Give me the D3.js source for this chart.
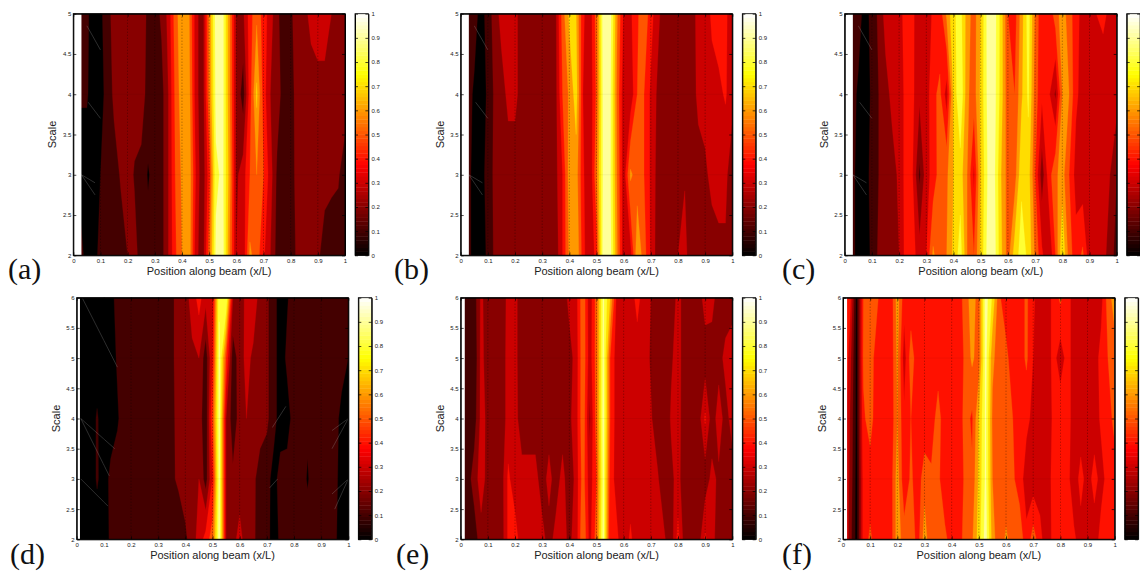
<!DOCTYPE html>
<html><head><meta charset="utf-8">
<script src="https://cdn.jsdelivr.net/npm/d3@7"></script>
<style>
html,body{margin:0;padding:0;background:#fff;overflow:hidden}
svg{display:block}
text{font-family:"Liberation Sans",Arial,sans-serif;fill:#222}
.mark{filter:blur(0.35px)}
.pl{font-family:"Liberation Serif",serif;font-size:30px;fill:#111}
</style></head><body><svg id="c" width="1140" height="572"></svg>
<script>
// Values in hundredths of the colour range, rows from lowest scale to highest, columns at x = 0, 0.025 ... 1
const xPositions = d3.range(41).map(i => i * 0.025);
const levels = [0,10,20,30,40,50,60,70,80,90];
const xTicks = [0,0.1,0.2,0.3,0.4,0.5,0.6,0.7,0.8,0.9,1];
const barTicks = xTicks;
const yTicksShort = [2,2.5,3,3.5,4,4.5,5];
const yTicksTall = [2,2.5,3,3.5,4,4.5,5,5.5,6];

const valuesA = [
[15,15,5,5,14,14,15,16,20,24,15,14,14,16,30,48,60,68,35,22,55,92,94,60,30,32,62,55,42,30,16,14,15,22,25,25,22,15,15,15,15],
[5,5,5,5,10,14,16,21,25,19,17,9,14,16,30,50,62,68,40,22,45,88,92,65,28,35,50,60,50,35,18,14,15,24,25,25,25,24,22,21,15],
[11,11,11,5,6,14,22,25,25,25,25,16,14,16,30,52,66,65,35,22,58,93,93,62,28,15,45,72,45,30,25,15,15,25,25,25,25,25,25,25,25],
[15,15,12,5,8,15,25,25,25,25,25,18,15,22,33,55,68,62,35,22,60,95,93,62,28,28,45,58,45,35,22,15,18,25,27,33,37,37,30,25,25]];
const valuesB = [
[15,15,5,5,12,22,24,24,24,24,24,24,24,24,24,40,62,70,44,30,45,95,95,62,33,35,68,55,38,25,22,22,30,34,22,22,22,25,28,28,28],
[15,15,5,5,15,22,24,24,24,24,24,24,24,24,27,40,65,65,42,30,58,92,92,60,33,62,55,50,38,26,23,23,23,29,24,25,28,33,33,33,22],
[15,15,8,4,12,22,25,33,33,25,25,25,25,25,27,50,62,75,40,32,52,93,93,58,33,33,50,50,38,28,24,22,22,22,24,33,34,36,38,41,34],
[15,15,15,5,15,24,34,34,33,25,25,25,25,25,28,55,72,70,42,33,55,95,95,62,38,38,48,58,44,33,24,22,22,24,26,33,34,42,44,42,34]];
const valuesC = [
[15,15,5,5,12,22,24,26,30,44,44,34,40,62,52,60,72,85,60,50,72,93,94,72,55,75,84,78,58,42,30,50,80,55,44,52,33,33,33,26,15],
[15,15,5,5,14,20,25,26,32,44,40,18,36,44,55,58,70,75,60,38,70,90,92,70,55,55,78,75,50,24,45,58,64,50,36,33,32,32,34,30,20],
[15,15,8,4,12,20,26,33,36,42,42,32,34,48,52,35,72,90,62,55,72,92,94,75,52,50,68,82,55,42,42,28,60,60,42,36,33,34,34,34,34],
[15,15,15,5,14,22,34,35,38,42,42,33,33,42,44,62,78,84,65,55,70,93,95,75,50,45,65,85,58,42,42,55,65,55,44,36,34,40,42,38,34]];
const valuesD = [
[5,5,5,5,7,11,14,14,14,14,14,14,14,14,15,12,18,25,34,44,55,95,30,26,34,24,22,15,14,5,12,14,15,15,15,15,15,15,12,5,5],
[5,5,5,11,6,12,14,14,14,14,14,14,14,14,18,22,25,28,30,15,40,93,30,22,24,28,22,16,14,6,14,14,15,15,9,15,15,15,13,6,5],
[5,5,5,11,5,6,9,14,14,14,14,14,14,14,17,24,25,28,26,12,50,93,30,14,24,30,26,24,22,14,5,6,14,14,12,15,15,15,14,7,6],
[5,5,5,5,5,6,11,14,14,14,14,14,14,14,18,24,25,28,30,14,40,93,50,14,25,33,28,24,22,14,5,12,15,15,15,15,15,15,15,14,10],
[5,5,5,5,5,7,13,14,14,14,14,14,14,14,18,24,26,34,44,33,35,88,90,30,24,33,36,26,22,14,5,9,15,15,15,15,15,15,15,15,12]];
const valuesE = [
[25,12,14,26,26,26,24,42,45,34,34,34,34,25,34,33,28,34,60,36,55,93,40,42,33,42,33,33,33,33,31,24,44,24,24,24,42,34,24,24,24],
[25,15,25,35,26,26,25,42,34,34,34,34,24,34,24,34,22,34,55,34,50,92,45,36,34,34,34,34,34,31,24,28,33,24,24,24,24,33,28,28,25],
[25,12,15,33,28,26,24,34,34,24,24,24,24,24,24,24,28,35,58,28,55,94,50,34,34,34,34,34,31,25,24,31,34,24,24,24,42,24,35,26,34],
[25,10,12,33,25,24,24,34,33,24,24,24,24,24,24,24,26,34,58,34,55,93,50,34,34,34,34,34,29,24,24,29,33,26,24,24,24,24,26,33,35],
[25,12,15,32,25,24,24,33,33,24,24,24,24,24,24,24,33,36,58,33,55,92,70,36,34,34,44,34,30,24,24,24,33,26,24,24,35,34,24,24,26]];
const valuesF = [
[50,25,6,44,52,44,44,44,65,55,58,45,65,52,52,52,46,44,55,58,75,95,65,52,62,55,58,42,55,44,32,44,44,44,42,35,30,34,44,42,42],
[50,28,6,44,44,44,44,44,65,42,52,44,56,52,52,44,44,44,52,52,72,92,60,55,52,52,44,36,34,34,34,44,44,44,33,44,35,44,36,44,44],
[50,30,7,48,55,43,42,42,60,42,50,42,42,44,55,42,42,42,55,48,70,92,58,55,54,50,44,42,38,30,34,42,48,44,36,33,34,34,42,44,54],
[55,35,6,52,55,45,42,42,62,35,55,44,44,44,44,44,44,44,52,62,55,94,62,55,54,42,44,52,40,34,33,44,34,44,36,34,34,34,44,50,55],
[55,45,7,50,55,52,42,42,65,44,44,44,44,44,44,44,44,44,55,65,55,95,78,52,42,44,44,52,42,33,33,44,52,44,36,36,34,34,36,55,65]];

// faint mesh seams, [x1, scale1, x2, scale2]
const seamsTop = [[0.05,4.85,0.1,4.55],[0.055,3.9,0.1,3.7],[0.03,3,0.08,2.9],[0.03,3,0.08,2.75]];
const seamsD = [[0.02,6,0.15,4.85],[0.015,4,0.14,3.5],[0.015,4,0.12,3.05],[0.015,3,0.115,2.55],[0.72,3.85,0.77,4.2],[0.71,2.85,0.74,3],[0.94,3.8,1,4],[0.94,3.5,1,4],[0.94,2.75,1,3],[0.95,2.5,1,3]];

const panels = [
 {label:"(a)", values:valuesA, start:0.03, left:73.3, right:345, top:13.7, bottom:255.3, bar:355, barLabels:true, labelX:8, labelY:279, yLabelX:52, scaleMin:2, yTicks:yTicksShort, seams:seamsTop},
 {label:"(b)", values:valuesB, start:0.03, left:460.7, right:732.3, top:13.7, bottom:255.3, bar:742.3, barLabels:true, labelX:394, labelY:279, yLabelX:440, scaleMin:2, yTicks:yTicksShort, seams:seamsTop},
 {label:"(c)", values:valuesC, start:0.03, left:844.7, right:1116.7, top:13.7, bottom:255.3, bar:1126.7, barLabels:false, labelX:782, labelY:279, yLabelX:824, scaleMin:2, yTicks:yTicksShort, seams:seamsTop},
 {label:"(d)", values:valuesD, start:0.012, left:76.7, right:348.3, top:297.7, bottom:539.3, bar:358.3, barLabels:true, labelX:10, labelY:564, yLabelX:56, scaleMin:2, yTicks:yTicksTall, seams:seamsD},
 {label:"(e)", values:valuesE, start:0.015, left:460.7, right:732.3, top:297.7, bottom:539.3, bar:742.3, barLabels:true, labelX:396, labelY:564, yLabelX:440, scaleMin:2, yTicks:yTicksTall, seams:[]},
 {label:"(f)", values:valuesF, start:0.015, left:843, right:1114.7, top:297.7, bottom:539.3, bar:1124.7, barLabels:false, labelX:782, labelY:564, yLabelX:822, scaleMin:2, yTicks:yTicksTall, seams:[]}
];

// MATLAB "hot" colour map
function hot(t){
  const r = Math.min(1, t/0.375), g = Math.max(0, Math.min(1,(t-0.375)/0.375)), b = Math.max(0,(t-0.75)/0.25);
  return d3.rgb(r*255, g*255, b*255).formatHex();
}
const svg = d3.select("#c");
const defs = svg.append("defs");
const fmt = d3.format("~g");

panels.forEach((p,k) => {
  const rows = p.values, ny = rows.length, nx = xPositions.length;
  const x = d3.scaleLinear().domain([0,1]).range([p.left,p.right]);
  const y = d3.scaleLinear().domain([p.scaleMin,p.scaleMin+ny-1]).range([p.bottom,p.top]);
  const col = d3.scaleLinear().domain([0,100]).range([0,1]);
  const dxv = xPositions[1]-xPositions[0];
  const g = svg.append("g");
  const id = "clip"+k;
  defs.append("clipPath").attr("id",id).append("rect")
    .attr("x",x(p.start)).attr("y",p.top).attr("width",p.right-x(p.start)).attr("height",p.bottom-p.top);

  const flat = rows.flat();
  const contours = d3.contours().size([nx,ny]).thresholds(levels).smooth(true)(flat);
  const proj = d3.geoTransform({point(a,b){ this.stream.point(x((a-0.5)*dxv), y(p.scaleMin+b-0.5)); }});
  const path = d3.geoPath(proj);
  const mark = g.append("g").attr("class","mark").attr("clip-path",`url(#${id})`);
  mark.selectAll("path").data(contours).join("path")
    .attr("d",path)
    .attr("fill",d=>hot(col(d.value)))
    .attr("stroke",d=>hot(col(d.value))).attr("stroke-width",0.3);
  // seams
  mark.selectAll("line.seam").data(p.seams).join("line").attr("class","seam")
    .attr("x1",d=>x(d[0])).attr("y1",d=>y(d[1])).attr("x2",d=>x(d[2])).attr("y2",d=>y(d[3]))
    .attr("stroke","#999").attr("stroke-width",0.5).attr("opacity",0.6);
  // faint row seams
  mark.selectAll("line.row").data(d3.range(p.scaleMin+1,p.scaleMin+ny-1)).join("line").attr("class","row")
    .attr("x1",p.left).attr("x2",p.right).attr("y1",d=>y(d)).attr("y2",d=>y(d))
    .attr("stroke","#000").attr("stroke-width",0.5).attr("opacity",0.1);
  // dotted grid
  g.append("g").selectAll("line").data(xTicks.slice(1,-1)).join("line")
    .attr("x1",d=>x(d)).attr("x2",d=>x(d)).attr("y1",p.top).attr("y2",p.bottom)
    .attr("stroke","#000").attr("stroke-width",0.7).attr("stroke-dasharray","1 2").attr("opacity",0.6);

  const style = a => { a.select(".domain").attr("stroke","#000").attr("stroke-width",1);
    a.selectAll(".tick line").attr("stroke","#000").attr("stroke-width",0.7);
    a.selectAll("text").attr("font-size",6).attr("fill","#333").attr("font-family","Liberation Sans"); };
  g.append("g").attr("transform",`translate(0,${p.bottom})`)
    .call(d3.axisBottom(x).tickValues(xTicks).tickFormat(fmt).tickSize(-3).tickSizeOuter(0).tickPadding(3)).call(style);
  g.append("g").attr("transform",`translate(0,${p.top})`)
    .call(d3.axisTop(x).tickValues(xTicks).tickFormat("").tickSize(-3).tickSizeOuter(0)).call(style);
  g.append("g").attr("transform",`translate(${p.left},0)`)
    .call(d3.axisLeft(y).tickValues(p.yTicks).tickFormat(fmt).tickSize(-3).tickSizeOuter(0).tickPadding(2)).call(style);
  g.append("g").attr("transform",`translate(${p.right},0)`)
    .call(d3.axisRight(y).tickValues(p.yTicks).tickFormat("").tickSize(-3).tickSizeOuter(0)).call(style);

  g.append("text").attr("x",(p.left+p.right)/2).attr("y",p.bottom+19.5).attr("text-anchor","middle").attr("font-size",11).text("Position along beam (x/L)");
  g.append("text").attr("transform",`translate(${p.yLabelX+4},${(p.top+p.bottom)/2}) rotate(-90)`).attr("text-anchor","middle").attr("font-size",11).text("Scale");
  g.append("text").attr("class","pl").attr("x",p.labelX).attr("y",p.labelY).text(p.label);

  // colour bar
  const cb = d3.scaleLinear().domain([0,1]).range([p.bottom,p.top]);
  const barW = 13.4;
  const steps = d3.range(64);
  g.append("g").selectAll("rect").data(steps).join("rect")
    .attr("x",p.bar).attr("width",barW)
    .attr("y",d=>cb((d+1)/64)).attr("height",d=>cb(d/64)-cb((d+1)/64)+0.4)
    .attr("fill",d=>hot((d+0.5)/64));
  g.append("g").attr("transform",`translate(${p.bar+barW},0)`)
    .call(d3.axisRight(cb).tickValues(barTicks).tickFormat(p.barLabels ? fmt : "").tickSize(-3).tickSizeOuter(0).tickPadding(3)).call(style);
  g.append("g").attr("transform",`translate(${p.bar},0)`)
    .call(d3.axisLeft(cb).tickValues(barTicks).tickFormat("").tickSize(-3).tickSizeOuter(0)).call(style);
  g.append("rect").attr("x",p.bar).attr("y",p.top).attr("width",barW).attr("height",p.bottom-p.top).attr("fill","none").attr("stroke","#000").attr("stroke-width",0.8);
  g.append("rect").attr("x",p.left).attr("y",p.top).attr("width",p.right-p.left).attr("height",p.bottom-p.top).attr("fill","none").attr("stroke","#000").attr("stroke-width",1);
});
</script></body></html>
